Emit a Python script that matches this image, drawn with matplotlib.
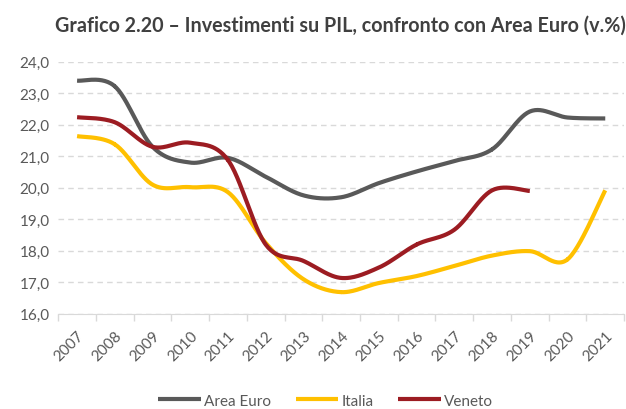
import numpy as np
import matplotlib
matplotlib.use("Agg")
import matplotlib.pyplot as plt
from matplotlib.ticker import FuncFormatter, FixedLocator

# Data (investimenti su PIL, %)
years = ["2007", "2008", "2009", "2010", "2011", "2012", "2013", "2014",
         "2015", "2016", "2017", "2018", "2019", "2020", "2021"]
area_euro = [23.4, 23.22, 21.3, 20.8, 20.95, 20.35, 19.76, 19.7,
             20.15, 20.52, 20.85, 21.22, 22.42, 22.23, 22.2]
italia = [21.64, 21.38, 20.1, 20.02, 19.86, 18.25, 17.1, 16.69,
          16.98, 17.2, 17.52, 17.85, 17.99, 17.73, 19.92]
veneto = [22.24, 22.08, 21.3, 21.43, 20.88, 18.2, 17.68, 17.14,
          17.47, 18.2, 18.67, 19.92, 19.9]

series = [("Area Euro", area_euro, "#595959"),
          ("Italia", italia, "#FFC000"),
          ("Veneto", veneto, "#9C1C22")]

FONT = "Lato"
TXT = "#595959"


# Excel-like smoothed line (Catmull-Rom through the data points)
def smooth(x, y, n=30):
    x = np.asarray(x, float)
    y = np.asarray(y, float)
    px = np.concatenate([[x[0]], x, [x[-1]]])
    py = np.concatenate([[y[0]], y, [y[-1]]])
    t = np.linspace(0, 1, n)
    xs, ys = [], []
    for i in range(1, len(px) - 2):
        p0, p1, p2, p3 = py[i - 1], py[i], py[i + 1], py[i + 2]
        q0, q1, q2, q3 = px[i - 1], px[i], px[i + 1], px[i + 2]
        for a, b, c, d, out in ((q0, q1, q2, q3, xs), (p0, p1, p2, p3, ys)):
            out.append(0.5 * ((2 * b) + (-a + c) * t
                              + (2 * a - 5 * b + 4 * c - d) * t ** 2
                              + (-a + 3 * b - 3 * c + d) * t ** 3))
    return np.concatenate(xs), np.concatenate(ys)


fig = plt.figure(figsize=(6.26, 4.10), dpi=100)
ax = fig.add_axes([0.093, 0.232, 0.904, 0.615])

for name, vals, col in series:
    xs, ys = smooth(np.arange(len(vals)), vals)
    ax.plot(xs, ys, color=col, lw=3.0, label=name, solid_capstyle="butt")

ax.set_xlim(-0.5, len(years) - 0.5)
ax.set_ylim(16, 24)
ax.set_yticks(np.arange(16, 25, 1))
ax.yaxis.set_major_formatter(FuncFormatter(lambda v, p: f"{v:.1f}".replace(".", ",")))
ax.grid(axis="y", color="#D9D9D9", lw=1.0, ls=(0, (4, 3)))
ax.set_axisbelow(True)

ax.set_xticks(np.arange(len(years)))
ax.set_xticklabels(years, rotation=45, ha="right", rotation_mode="anchor",
                   fontsize=11, color=TXT, family=FONT)
ax.xaxis.set_minor_locator(FixedLocator(np.arange(-0.5, len(years), 1)))
ax.tick_params(axis="x", which="major", length=0, pad=10)
ax.tick_params(axis="x", which="minor", length=5, color="#D9D9D9", width=1)
ax.tick_params(axis="y", length=0, pad=6, labelsize=11, labelcolor=TXT)
for lab in ax.get_yticklabels():
    lab.set_family(FONT)

for s in ["top", "right", "left"]:
    ax.spines[s].set_visible(False)
ax.spines["bottom"].set_color("#D9D9D9")

fig.text(0.544, 0.938, "Grafico 2.20 \u2013 Investimenti su PIL, confronto con Area Euro (v.%)",
         ha="center", va="center", fontsize=14.2, fontweight="bold",
         color="#404040", family=FONT)

leg = fig.legend(loc="center", bbox_to_anchor=(0.52, 0.02), ncol=3, frameon=False,
                 prop={"family": FONT, "size": 11}, handlelength=2.8,
                 handletextpad=0.2, columnspacing=1.6)
for t in leg.get_texts():
    t.set_color(TXT)

fig.savefig("out.png", dpi=100)
